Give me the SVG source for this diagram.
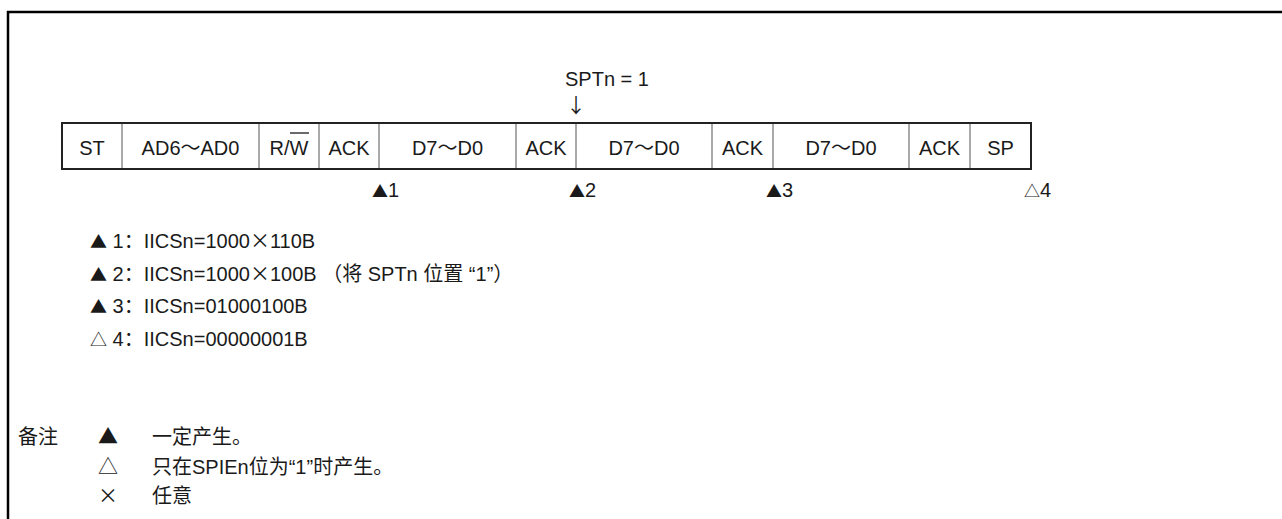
<svg xmlns="http://www.w3.org/2000/svg" width="1282" height="519" viewBox="0 0 1282 519">
<style>
text{font-family:"Liberation Sans","Noto Sans CJK SC",sans-serif;font-size:20px;fill:#1a1a1a}
.c{text-anchor:middle}
.cjk{font-family:"Noto Sans CJK SC","Liberation Sans",sans-serif}
.frame{fill:none;stroke:#000;stroke-width:2.5}
.outer{fill:#fff;stroke:#222;stroke-width:2}
.div{stroke:#555;stroke-width:1}
</style>
<rect width="1282" height="519" fill="#fff"/>
<path class="frame" d="M8,522 V12 H1284"/>
<g id="label-spt">
<text x="565" y="86">SPTn = 1</text>
<text class="c cjk" x="576" y="113">↓</text>
</g>
<g id="frame-table">
<rect class="outer" x="62" y="123" width="969" height="46"/>
<g id="dividers">
<line class="div" x1="122" y1="124" x2="122" y2="168"/>
<line class="div" x1="259" y1="124" x2="259" y2="168"/>
<line class="div" x1="319" y1="124" x2="319" y2="168"/>
<line class="div" x1="379" y1="124" x2="379" y2="168"/>
<line class="div" x1="516" y1="124" x2="516" y2="168"/>
<line class="div" x1="576" y1="124" x2="576" y2="168"/>
<line class="div" x1="712" y1="124" x2="712" y2="168"/>
<line class="div" x1="773" y1="124" x2="773" y2="168"/>
<line class="div" x1="909" y1="124" x2="909" y2="168"/>
<line class="div" x1="970" y1="124" x2="970" y2="168"/>
</g>
<g id="cell-st"><text class="c" x="92" y="155">ST</text></g>
<g id="cell-addr"><text class="c" x="190.5" y="155">AD6～AD0</text></g>
<g id="cell-rw"><text class="c" x="289" y="155">R/W</text><line x1="290" y1="133" x2="309" y2="133" stroke="#1a1a1a" stroke-width="1.3"/></g>
<g id="cell-ack1"><text class="c" x="349" y="155">ACK</text></g>
<g id="cell-d1"><text class="c" x="447.5" y="155">D7～D0</text></g>
<g id="cell-ack2"><text class="c" x="546" y="155">ACK</text></g>
<g id="cell-d2"><text class="c" x="644" y="155">D7～D0</text></g>
<g id="cell-ack3"><text class="c" x="742.5" y="155">ACK</text></g>
<g id="cell-d3"><text class="c" x="841" y="155">D7～D0</text></g>
<g id="cell-ack4"><text class="c" x="939.5" y="155">ACK</text></g>
<g id="cell-sp"><text class="c" x="1000.5" y="155">SP</text></g>
</g>
<g id="markers">
<text x="372" y="197"><tspan class="cjk" font-size="16">▲</tspan>1</text>
<text x="569" y="197"><tspan class="cjk" font-size="16">▲</tspan>2</text>
<text x="766" y="197"><tspan class="cjk" font-size="16">▲</tspan>3</text>
<text x="1024" y="197"><tspan class="cjk" font-size="16">△</tspan>4</text>
</g>
<g id="legend">
<text x="90" y="248"><tspan class="cjk" font-size="17">▲</tspan> 1<tspan class="cjk">：</tspan>IICSn=1000<tspan class="cjk">×</tspan>110B</text>
<text x="90" y="281"><tspan class="cjk" font-size="17">▲</tspan> 2<tspan class="cjk">：</tspan>IICSn=1000<tspan class="cjk">×</tspan>100B <tspan class="cjk">（将</tspan> SPTn <tspan class="cjk">位置</tspan> “1”<tspan class="cjk">）</tspan></text>
<text x="90" y="313"><tspan class="cjk" font-size="17">▲</tspan> 3<tspan class="cjk">：</tspan>IICSn=01000100B</text>
<text x="90" y="346"><tspan class="cjk" font-size="17">△</tspan> 4<tspan class="cjk">：</tspan>IICSn=00000001B</text>
</g>
<g id="notes">
<text class="cjk" x="18" y="444">备注</text>
<text class="cjk" x="98" y="444" font-size="17">▲</text>
<text class="cjk" x="152" y="444">一定产生。</text>
<text class="cjk" x="98" y="474" font-size="17">△</text>
<text x="152" y="474"><tspan class="cjk">只在</tspan>SPIEn<tspan class="cjk">位为</tspan>“1”<tspan class="cjk">时产生。</tspan></text>
<text class="cjk" x="98" y="503" font-size="17">×</text>
<text class="cjk" x="152" y="503">任意</text>
</g>
</svg>
